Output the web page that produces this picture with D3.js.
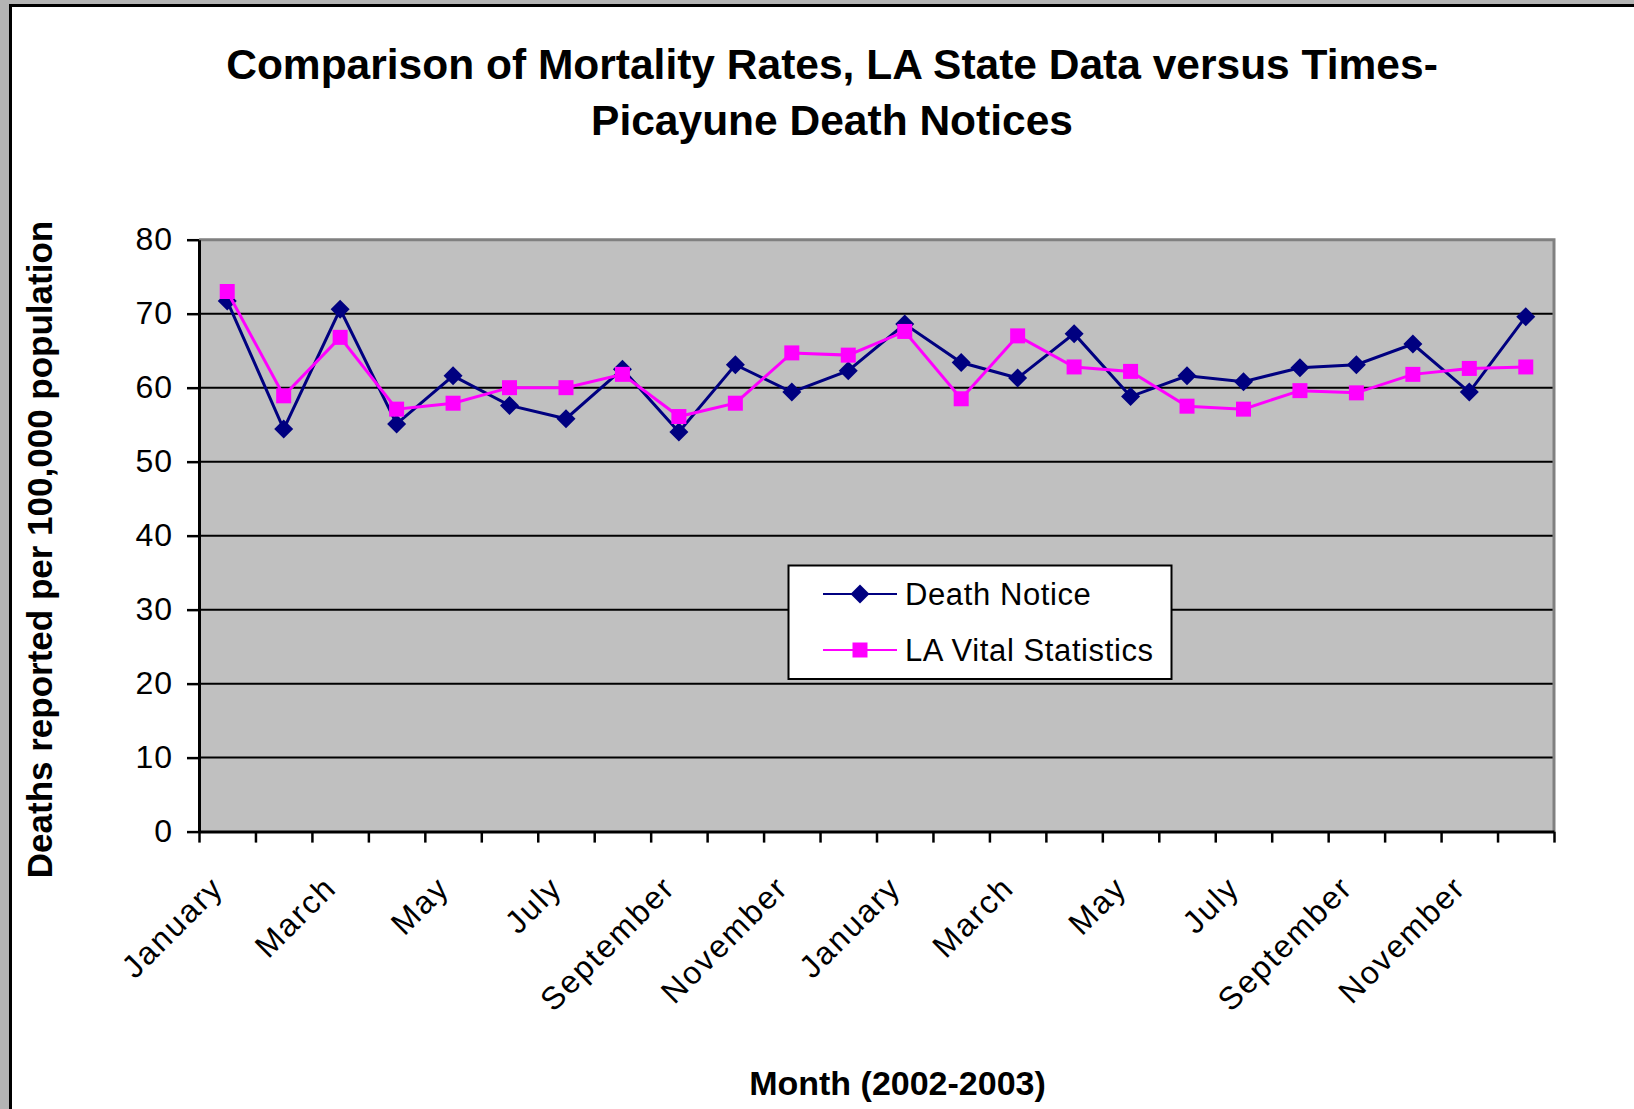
<!DOCTYPE html>
<html>
<head>
<meta charset="utf-8">
<script src="https://cdn.jsdelivr.net/npm/d3@7"></script>
<style>
  html, body { margin: 0; padding: 0; background: #b4b4b4; }
  svg { display: block; }
  text { font-family: "Liberation Sans", Arial, sans-serif; fill: #000; }
</style>
</head>
<body>
<svg id="chart" width="1634" height="1109"></svg>
<script>
// month labels for the 24 months, 2002-2003
const months = ["January", "February", "March", "April", "May", "June", "July", "August",
  "September", "October", "November", "December",
  "January", "February", "March", "April", "May", "June", "July", "August",
  "September", "October", "November", "December"];

const deathNotice = [71.7, 54.4, 70.6, 55.1, 61.6, 57.6, 55.8, 62.5, 54.0, 63.1, 59.4, 62.3,
  68.6, 63.4, 61.3, 67.3, 58.8, 61.6, 60.8, 62.7, 63.1, 65.9, 59.4, 69.6];
const laVital = [73.0, 58.9, 66.8, 57.1, 57.9, 60.0, 60.0, 61.8, 56.1, 57.9, 64.7, 64.4,
  67.6, 58.5, 67.0, 62.8, 62.2, 57.5, 57.1, 59.6, 59.3, 61.8, 62.6, 62.8];

const yTicks = [0, 10, 20, 30, 40, 50, 60, 70, 80];
const seriesNames = ["Death Notice", "LA Vital Statistics"];

const plot = { left: 199, right: 1554, top: 239.7, bottom: 831.6 };

const svg = d3.select("#chart");

// white chart area with black frame (page grey shows at left / top)
svg.append("rect")
  .attr("x", 10.5).attr("y", 5.5)
  .attr("width", 1700).attr("height", 1200)
  .attr("fill", "#fff")
  .attr("stroke", "#000")
  .attr("stroke-width", 3);

const idx = d3.range(months.length);
const x = d3.scaleBand().domain(idx).range([plot.left, plot.right]);
const cx = (i) => x(i) + x.bandwidth() / 2;
const y = d3.scaleLinear().domain([0, 80]).range([plot.bottom, plot.top]);

// plot area
svg.append("rect")
  .attr("x", plot.left).attr("y", plot.top)
  .attr("width", plot.right - plot.left).attr("height", plot.bottom - plot.top)
  .attr("fill", "#c0c0c0");

// gridlines
svg.append("g")
  .selectAll("line")
  .data(yTicks.filter((d) => d > 0 && d < 80))
  .join("line")
  .attr("x1", plot.left).attr("x2", plot.right)
  .attr("y1", (d) => y(d)).attr("y2", (d) => y(d))
  .attr("stroke", "#000")
  .attr("stroke-width", 2);

// grey border top / right
svg.append("path")
  .attr("d", `M${plot.left},${plot.top}H${plot.right}V${plot.bottom}`)
  .attr("fill", "none")
  .attr("stroke", "#808080")
  .attr("stroke-width", 3);

// y axis
const yAxis = svg.append("g")
  .attr("transform", `translate(${plot.left},0)`)
  .call(d3.axisLeft(y).tickValues(yTicks).tickSize(12).tickSizeOuter(0).tickPadding(14));
yAxis.select(".domain").attr("stroke", "#000").attr("stroke-width", 3);
yAxis.selectAll(".tick line").attr("stroke", "#000").attr("stroke-width", 2.5);
yAxis.selectAll(".tick text")
  .attr("font-size", 32)
  .attr("font-family", "'Liberation Sans', Arial, sans-serif")
  .attr("letter-spacing", 1);

// x axis: ticks on category boundaries
const xb = d3.scaleLinear().domain([0, months.length]).range([plot.left, plot.right]);
const xAxis = svg.append("g")
  .attr("transform", `translate(0,${plot.bottom})`)
  .call(d3.axisBottom(xb).tickValues(d3.range(months.length + 1)).tickSize(11).tickSizeOuter(0).tickFormat(""));
xAxis.select(".domain").attr("stroke", "#000").attr("stroke-width", 3);
xAxis.selectAll(".tick line").attr("stroke", "#000").attr("stroke-width", 2.5);

// x labels, every other month, rotated
svg.append("g")
  .selectAll("text")
  .data(idx.filter((i) => i % 2 === 0))
  .join("text")
  .attr("transform", (i) => `translate(${cx(i) - 18},${plot.bottom + 42}) rotate(-45)`)
  .attr("text-anchor", "end")
  .attr("dy", "0.71em")
  .attr("font-size", 32)
  .attr("letter-spacing", 2)
  .text((i) => months[i]);

// series
const line = d3.line().x((d, i) => cx(i)).y((d) => y(d));
const diamond = "M0,-9.5L9.5,0L0,9.5L-9.5,0Z";
const square = "M-7.5,-7.5H7.5V7.5H-7.5Z";

const series = [
  { name: seriesNames[0], values: deathNotice, color: "#000080", marker: diamond },
  { name: seriesNames[1], values: laVital, color: "#ff00ff", marker: square },
];

series.forEach((s) => {
  svg.append("path")
    .datum(s.values)
    .attr("d", line)
    .attr("fill", "none")
    .attr("stroke", s.color)
    .attr("stroke-width", 3)
    .attr("stroke-linejoin", "miter");
  svg.append("g")
    .selectAll("path")
    .data(s.values)
    .join("path")
    .attr("transform", (d, i) => `translate(${cx(i)},${y(d)})`)
    .attr("d", s.marker)
    .attr("fill", s.color);
});

// legend
const legend = svg.append("g");
legend.append("rect")
  .attr("x", 788.5).attr("y", 565.5)
  .attr("width", 383).attr("height", 113.5)
  .attr("fill", "#fff")
  .attr("stroke", "#000")
  .attr("stroke-width", 2);
series.forEach((s, k) => {
  const ly = 594 + k * 56;
  legend.append("line")
    .attr("x1", 823).attr("x2", 897)
    .attr("y1", ly).attr("y2", ly)
    .attr("stroke", s.color).attr("stroke-width", 2);
  legend.append("path")
    .attr("transform", `translate(860,${ly})`)
    .attr("d", s.marker)
    .attr("fill", s.color);
  legend.append("text")
    .attr("x", 905).attr("y", ly)
    .attr("dy", "0.36em")
    .attr("font-size", 31)
    .attr("letter-spacing", 0.6)
    .text(s.name);
});

// titles
const title = svg.append("text")
  .attr("text-anchor", "middle")
  .attr("font-size", 42.5)
  .attr("font-weight", "bold");
title.append("tspan").attr("x", 832).attr("y", 79)
  .text("Comparison of Mortality Rates, LA State Data versus Times-");
title.append("tspan").attr("x", 832).attr("y", 135)
  .text("Picayune Death Notices");

svg.append("text")
  .attr("transform", "translate(52,549.5) rotate(-90)")
  .attr("text-anchor", "middle")
  .attr("font-size", 35)
  .attr("font-weight", "bold")
  .text("Deaths reported per 100,000 population");

svg.append("text")
  .attr("x", 897.5).attr("y", 1095)
  .attr("text-anchor", "middle")
  .attr("font-size", 34)
  .attr("font-weight", "bold")
  .text("Month (2002-2003)");
</script>
</body>
</html>
